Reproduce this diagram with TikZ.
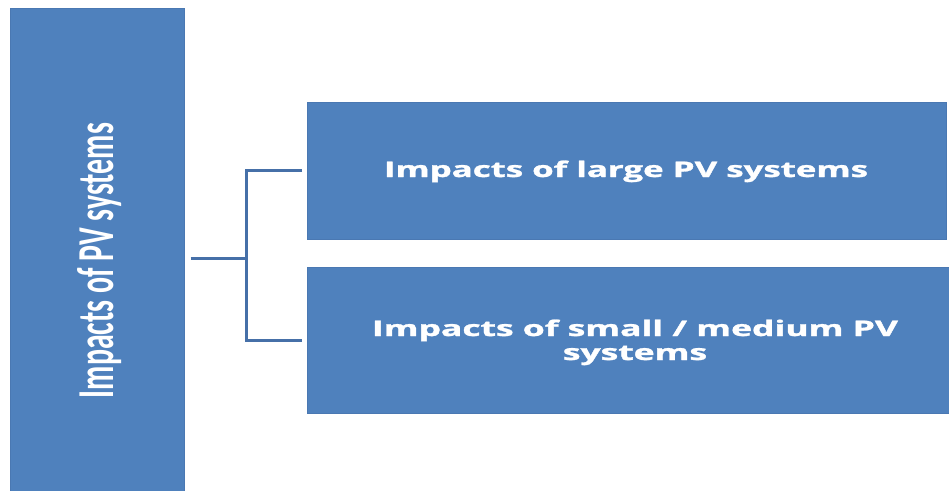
\documentclass[tikz,border=0pt]{standalone}
\usepackage{fontspec}
\usepackage{graphicx}
\newfontfamily\rtfont{Open Sans}[BoldFeatures={FakeBold=1.2}]
\newfontfamily\ltfont{Carlito}
\definecolor{boxblue}{HTML}{4F81BD}
\definecolor{edgeblue}{HTML}{4A78B2}
\definecolor{linkblue}{HTML}{4670A8}
\begin{document}
\begin{tikzpicture}[x=1pt,y=-1pt,
  box/.style={fill=boxblue,draw=edgeblue,line width=0.6pt,inner sep=0pt,anchor=north west},
  lbl/.style={text=white,inner sep=0pt},
  conn/.style={draw=linkblue,line width=3pt}]
\useasboundingbox (0,0) rectangle (949,490);
% boxes
\node[box,minimum width=174pt,minimum height=484pt] (pv) at (10,8) {};
\node[box,minimum width=639pt,minimum height=137pt] (large) at (307,102) {};
\node[box,minimum width=644pt,minimum height=146pt] (small) at (307,267) {};
% labels
\node[lbl] (pvtext) at (99.5,260.5)
  {\rotatebox{90}{\resizebox{275pt}{36pt}{\ltfont\bfseries Impacts of PV systems}}};
\node[lbl,anchor=base] (largetext) at (626,177)
  {\resizebox{484pt}{\height}{\fontsize{21.5}{24}\selectfont\rtfont\bfseries Impacts of large PV systems}};
\node[lbl,anchor=base] (smalltext) at (635,336)
  {\resizebox{526pt}{\height}{\fontsize{21.5}{24}\selectfont\rtfont\bfseries
   \begin{tabular}[t]{@{}c@{}}Impacts of small / medium PV\\ systems\end{tabular}}};
% connectors
\coordinate (j) at (246,258);
\draw[conn] ([xshift=6pt]pv.east |- j) -- (j);
\draw[conn] ([xshift=-5pt]large.west) -| (j) |- ([xshift=-5pt]small.west);
\end{tikzpicture}
\end{document}
